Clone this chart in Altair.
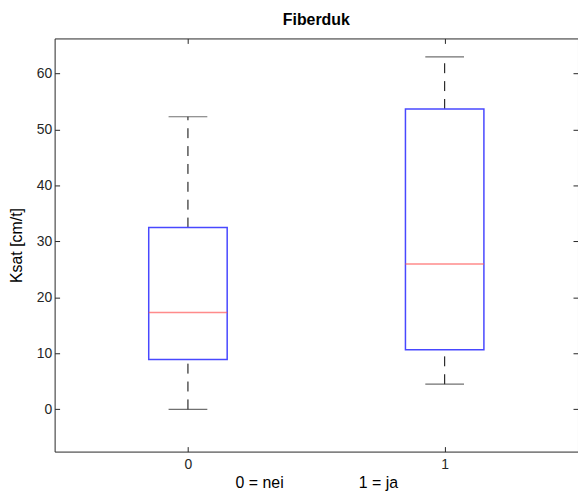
import altair as alt
import pandas as pd

groups = [0, 1]
lower_whisker = [0.0, 4.5]
q1 = [8.9, 10.65]
median = [17.3, 26.0]
q3 = [32.5, 53.7]
upper_whisker = [52.3, 63.0]

y_ticks = [0, 10, 20, 30, 40, 50, 60]
x_ticks = [0, 1]

df = pd.DataFrame({
    "group": groups,
    "lo": lower_whisker,
    "q1": q1,
    "med": median,
    "q3": q3,
    "hi": upper_whisker,
})

XDOM = [-0.5, 1.5]
YDOM = [-7.55, 66.3]
FONT = "Liberation Sans"
AX = "#262626"
NB = "\u00a0" * 17

xs = alt.Scale(domain=XDOM, nice=False, zero=False)
ys = alt.Scale(domain=YDOM, nice=False, zero=False)

x_axis = alt.Axis(values=x_ticks, title="0 = nei" + NB + "1 = ja",
                  domain=False, grid=False, offset=-5, tickSize=5, tickColor=AX,
                  labelPadding=6, labelFontSize=14, labelColor=AX, titleFontSize=16,
                  titleFontWeight="normal", titleColor="black", titlePadding=3, format="d")
y_axis = alt.Axis(values=y_ticks, title="Ksat [cm/t]", domain=False, grid=False,
                  offset=-5, tickSize=5, tickColor=AX, labelPadding=3,
                  labelFontSize=14, labelColor=AX, titleFontSize=16,
                  titleFontWeight="normal", titleColor="black", titlePadding=12, format="d")

base = alt.Chart(df)

whisk_lo = base.mark_rule(color="black", strokeDash=[10, 8], strokeWidth=1).encode(
    x=alt.X("group:Q", scale=xs, axis=x_axis),
    y=alt.Y("lo:Q", scale=ys, axis=y_axis),
    y2="q1:Q",
)
whisk_hi = base.mark_rule(color="black", strokeDash=[10, 8], strokeWidth=1).encode(
    x=alt.X("group:Q", scale=xs, axis=None), y=alt.Y("q3:Q", scale=ys, axis=None), y2="hi:Q"
)
cap_lo = base.mark_tick(orient="horizontal", size=39, thickness=1.2, color="#333333").encode(
    x=alt.X("group:Q", scale=xs, axis=None), y=alt.Y("lo:Q", scale=ys, axis=None)
)
cap_hi = base.mark_tick(orient="horizontal", size=39, thickness=1.2, color="#333333").encode(
    x=alt.X("group:Q", scale=xs, axis=None), y=alt.Y("hi:Q", scale=ys, axis=None)
)
box = base.mark_bar(size=79, fill="white", fillOpacity=0, stroke="#4848ff", strokeWidth=1.5).encode(
    x=alt.X("group:Q", scale=xs, axis=None), y=alt.Y("q1:Q", scale=ys, axis=None), y2="q3:Q"
)
med = base.mark_tick(orient="horizontal", size=79, thickness=1.5, color="#ff5a5a").encode(
    x=alt.X("group:Q", scale=xs, axis=None), y=alt.Y("med:Q", scale=ys, axis=None)
)

# mirror ticks on top and right
mirror = base.mark_point(opacity=0).encode(
    x=alt.X("group:Q", scale=xs, axis=alt.Axis(orient="top", values=x_ticks, labels=False,
            title=None, domain=False, grid=False, offset=-5, tickSize=5, tickColor=AX)),
    y=alt.Y("med:Q", scale=ys, axis=alt.Axis(orient="right", values=y_ticks, labels=False,
            title=None, domain=False, grid=False, offset=-5, tickSize=5, tickColor=AX)),
)

chart = alt.layer(whisk_lo, whisk_hi, box, med, cap_lo, cap_hi, mirror).resolve_axis(
    x="independent", y="independent"
).properties(
    width=527,
    height=416,
    title=alt.Title("Fiberduk", fontSize=16, fontWeight="bold", color="black", offset=10),
    autosize=alt.AutoSizeParams(type="none"),
    padding={"left": 55, "top": 37, "right": 0, "bottom": 41},
).configure(
    font=FONT,
).configure_view(
    stroke=AX, strokeWidth=1
)

chart.save("out.html", embed_options={"renderer": "svg", "actions": False})
